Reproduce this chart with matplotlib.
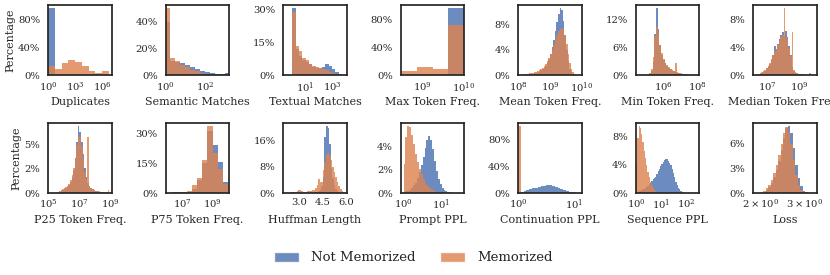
import numpy as np
import matplotlib
matplotlib.use("Agg")
import matplotlib.pyplot as plt
import seaborn as sns
from matplotlib.ticker import FuncFormatter, NullLocator
from matplotlib.patches import Patch

# percentages per bin (not memorized / memorized)
dup_not = [96, 1.2, 0.8, 0.6, 0.5, 0.4, 0.2, 0.1, 0.2]
dup_mem = [13.9, 9.1, 17.3, 22.0, 20.0, 14.0, 6.7, 3.4, 6.7]

sem_not = [40, 11, 10, 9, 7.5, 6, 5, 3.5, 2.5, 1.8, 1.2, 1.2, 1.8]
sem_mem = [50, 13, 11, 8, 6, 4, 3, 2, 1.2, 0.8, 0.5, 0.3, 0.2]

tex_not = [30.5, 12, 9, 7, 6, 5, 4, 3.5, 3.5, 4, 5, 4.5, 3, 1.5, 0.8]
tex_mem = [29, 13.5, 11, 8, 7, 5, 4.5, 4, 3.5, 3, 2.5, 1.8, 1, 0.5, 0.2]

max_not = [1.3, 1.3, 1.3, 96]
max_mem = [6.7, 12.4, 9.0, 72]

mean_not = [0, 0, 0.05, 0.1, 0.1, 0.15, 0.2, 0.2, 0.25, 0.3,
            0.35, 0.4, 0.5, 0.6, 0.8, 1.0, 1.2, 1.5, 2.0, 2.6,
            3.4, 4.4, 5.6, 7.0, 8.4, 9.6, 10.5, 10.2, 8.6, 6.4,
            4.0, 2.2, 1.0, 0.5, 0.2, 0.1, 0, 0, 0, 0]
mean_mem = [0, 0.05, 0.1, 0.15, 0.2, 0.25, 0.3, 0.35, 0.4, 0.45,
            0.5, 0.6, 0.7, 0.8, 1.0, 1.2, 1.5, 1.8, 2.2, 2.7,
            3.3, 4.0, 4.8, 5.6, 6.3, 6.9, 7.3, 7.5, 7.2, 6.4,
            5.0, 3.4, 2.0, 1.0, 0.5, 0.25, 0.1, 0.05, 0, 0]

min_not = [0, 0.05, 0.1, 0.2, 0.4, 1.0, 3.0, 9.0, 14.5, 10.0,
           6.5, 4.5, 3.3, 2.6, 2.1, 1.7, 1.4, 1.1, 0.9, 0.75,
           0.6, 0.5, 0.4, 0.35, 0.3, 0.25, 0.2, 0.15, 0.1, 0.1,
           0.05, 0.05]
min_mem = [0, 0.1, 0.2, 0.3, 0.6, 1.5, 4.0, 8.5, 10.5, 9.0,
           6.5, 4.8, 3.6, 2.8, 2.2, 1.8, 1.5, 1.2, 1.0, 2.6,
           0.7, 0.55, 0.45, 0.4, 0.35, 0.3, 0.25, 0.2, 0.15, 0.1,
           0.1, 0.05]

med_not = [0, 0.05, 0.1, 0.2, 0.3, 0.5, 0.7, 1.0, 1.3, 1.7,
           2.2, 2.9, 4.2, 3.8, 4.5, 5.2, 5.8, 6.2, 5.6, 6.3,
           5.5, 4.2, 3.0, 1.2, 0.6, 0.4, 0.3, 0.2, 0.15, 0.1,
           0.1, 0.05, 0.05, 0.1, 0.05, 0, 0, 0]
med_mem = [0, 0.1, 0.2, 0.3, 0.45, 0.6, 0.8, 1.1, 1.4, 1.8,
           2.3, 2.9, 3.5, 3.8, 4.3, 5.0, 5.6, 5.8, 9.6, 5.5,
           5.2, 4.0, 2.8, 6.2, 0.8, 0.5, 0.35, 0.25, 0.2, 0.15,
           0.1, 0.1, 0.05, 0.05, 0.3, 0, 0, 0]

p25_not = [0, 0, 0, 0, 0, 0, 0.05, 0.1, 0.2, 0.3,
           0.4, 0.5, 0.6, 0.8, 1.1, 1.6, 2.4, 3.6, 5.2, 6.9,
           6.3, 5.2, 4.0, 2.6, 1.6, 1.0, 0.7, 0.5, 0.4, 0.3,
           0.25, 0.2, 0.15, 0.1, 0.1, 0.1, 0.05, 0.05, 0.1, 0.05]
p25_mem = [0, 0, 0, 0, 0, 0, 0.1, 0.2, 0.3, 0.4,
           0.5, 0.6, 0.75, 0.95, 1.3, 1.8, 2.6, 3.6, 4.9, 5.8,
           5.9, 4.8, 3.5, 2.2, 1.4, 5.8, 0.7, 0.5, 0.4, 0.3,
           0.25, 0.2, 0.2, 0.15, 0.15, 0.1, 0.1, 0.1, 0.3, 0.05]

p75_not = [0, 0.3, 0.5, 0.5, 0.6, 2.0, 6.5, 15.0, 31.0, 24.0, 15.5, 5.5, 1.0]
p75_mem = [0, 0, 0.3, 0.5, 1.0, 3.9, 7.3, 16.5, 33.7, 20.0, 12.0, 4.5, 5.0]

huf_not = [0, 0, 0, 0, 0, 0, 0, 0, 0.05, 0.1,
           0.1, 0.05, 0.05, 0.05, 0.05, 0.1, 0.1, 0.1, 0.15, 0.2,
           0.3, 0.4, 0.6, 1.0, 2.0, 5.0, 17.0, 20.5, 20.0, 15.0,
           7.5, 4.5, 2.5, 1.3, 0.7, 0.4, 0.2, 0.1, 0.05, 0]
huf_mem = [0.05, 0.1, 0.1, 0.15, 0.2, 0.25, 0.3, 0.4, 0.6, 1.0,
           0.9, 0.5, 0.4, 0.4, 0.45, 0.5, 0.6, 0.7, 0.8, 1.0,
           1.4, 2.5, 4.2, 3.5, 3.5, 7.0, 9.5, 12.0, 12.6, 11.5,
           10.0, 8.0, 6.5, 5.0, 3.5, 2.2, 1.3, 0.7, 0.3, 0.1]

pr_not = [0.1, 0.15, 0.2, 0.3, 0.45, 0.65, 0.9, 1.3, 1.8, 2.4,
          3.1, 3.9, 4.6, 4.9, 4.6, 3.8, 2.8, 1.9, 1.2, 0.75,
          0.45, 0.28, 0.17, 0.1, 0.06, 0.04, 0.02, 0.01, 0.01, 0]
pr_mem = [2.5, 4.8, 5.8, 5.7, 5.0, 4.2, 3.4, 2.7, 2.1, 1.6,
          1.2, 0.9, 0.7, 0.5, 0.35, 0.25, 0.17, 0.11, 0.07, 0.05,
          0.03, 0.02, 0.01, 0, 0, 0, 0, 0, 0, 0]

cont_not = [1.0, 2.0, 3.0, 4.2, 5.5, 6.8, 8.0, 9.2, 10.2, 11.0,
            11.5, 11.3, 10.6, 9.5, 8.0, 6.4, 4.8, 3.3, 2.1, 1.2,
            0.6, 0.2]
cont_mem = [99.5, 0, 0, 0, 0, 0, 0, 0, 0, 0,
            0, 0, 0, 0, 0, 0, 0, 0, 0, 0,
            0, 0]

seq_not = [0.15, 0.2, 0.25, 0.3, 0.4, 0.5, 0.6, 0.75, 0.9, 1.05,
           1.25, 1.45, 1.7, 1.95, 2.1, 2.3, 2.7, 3.1, 3.45, 3.8,
           4.15, 4.45, 4.7, 4.8, 4.75, 4.5, 4.2, 3.9, 3.4, 2.8,
           2.2, 1.6, 1.1, 0.75, 0.5, 0.3, 0.18, 0.1, 0.05, 0.03,
           0.02, 0.01, 0.01, 0]
seq_mem = [4.0, 7.8, 9.5, 9.2, 8.3, 7.2, 6.0, 4.9, 3.9, 3.0,
           2.2, 1.6, 1.1, 0.7, 0.45, 0.3, 0.2, 0.12, 0.08, 0.05,
           0.03, 0.02, 0, 0, 0, 0, 0, 0, 0, 0,
           0, 0, 0, 0, 0, 0, 0, 0, 0, 0,
           0, 0, 0, 0]

loss_not = [0.02, 0.05, 0.15, 0.35, 0.7, 1.2, 1.9, 2.8, 3.9, 5.2,
            6.6, 7.8, 8.1, 7.2, 5.4, 3.4, 1.8, 0.8, 0.3, 0.1]
loss_mem = [0.05, 0.1, 0.3, 0.6, 1.0, 1.6, 2.4, 3.4, 4.6, 5.9,
            7.2, 7.95, 7.4, 5.9, 4.0, 2.2, 1.0, 0.4, 0.1, 0.03]

labels = ["Not Memorized", "Memorized"]

# name, not, mem, bin range (log10 unless linear), log?, xlim, xticks, yticks
panels = [
    ("Duplicates", dup_not, dup_mem, (0, 6.75), True, (0, 7.1), [0, 3, 6], [0, 40, 80]),
    ("Semantic Matches", sem_not, sem_mem, (0, 3.2), True, (0, 3.2), [0, 2], [0, 20, 40]),
    ("Textual Matches", tex_not, tex_mem, (0, 3.75), True, (-0.72, 4.14), [1, 3], [0, 15, 30]),
    ("Max Token Freq.", max_not, max_mem, (8.46, 10.03), True, (8.46, 10.03), [9, 10], [0, 40, 80]),
    ("Mean Token Freq.", mean_not, mean_mem, (8, 10), True, (8, 10), [8, 9, 10], [0, 4, 8]),
    ("Min Token Freq.", min_not, min_mem, (4.8, 8.0), True, (4.41, 8.12), [6, 8], [0, 6, 12]),
    ("Median Token Freq.", med_not, med_mem, (6.2, 10.0), True, (6.08, 10.1), [7, 9], [0, 4, 8]),
    ("P25 Token Freq.", p25_not, p25_mem, (5, 9), True, (5, 9.07), [5, 7, 9], [0, 2.5, 5]),
    ("P75 Token Freq.", p75_not, p75_mem, (6.0, 10.33), True, (5.93, 10.1), [7, 9], [0, 15, 30]),
    ("Huffman Length", huf_not, huf_mem, (2.0, 6.0), False, (1.93, 6.05), [3.0, 4.5, 6.0], [0, 8, 16]),
    ("Prompt PPL", pr_not, pr_mem, (0, 1.5), True, (-0.08, 1.6), [0, 1], [0, 2, 4]),
    ("Continuation PPL", cont_not, cont_mem, (0, 1.1), True, (0, 1.13), [0, 1], [0, 40, 80]),
    ("Sequence PPL", seq_not, seq_mem, (0, 2.2), True, (-0.02, 2.5), [0, 1, 2], [0, 4, 8]),
    ("Loss", loss_not, loss_mem, (0.29, 0.49), True, (0.268, 0.528), None, [0, 3, 6]),
]

sns.set_style("white")
plt.rcParams["font.family"] = "DejaVu Serif"
plt.rcParams["mathtext.fontset"] = "dejavuserif"
plt.rcParams["xtick.major.size"] = 0
plt.rcParams["xtick.major.pad"] = 3.5
plt.rcParams["ytick.major.size"] = 0
plt.rcParams["ytick.major.pad"] = 5.5

colors = sns.color_palette("deep")[:2]
alpha = 0.82

fig, axes = plt.subplots(2, 7, figsize=(8.3, 2.75), dpi=100)
fig.subplots_adjust(left=48 / 830, right=817 / 830, top=1 - 5 / 275,
                    bottom=1 - 193 / 275, wspace=0.836, hspace=0.667)

for ax, (name, nm, mm, (lo, hi), logx, xl, xt, yt) in zip(axes.flat, panels):
    for vals, c in [(nm, colors[0]), (mm, colors[1])]:
        e = np.linspace(lo, hi, len(vals) + 1)
        if logx:
            e = 10 ** e
        ax.stairs(vals, e, fill=True, color=c, alpha=alpha, lw=0)
    if logx:
        ax.set_xscale("log")
        ax.set_xlim(10 ** xl[0], 10 ** xl[1])
        if xt is not None:
            ax.set_xticks([10.0 ** t for t in xt])
        else:
            ax.set_xticks([2, 3], labels=[r"$\mathdefault{2\times10^{0}}$",
                                          r"$\mathdefault{3\times10^{0}}$"])
        ax.xaxis.set_minor_locator(NullLocator())
    else:
        ax.set_xlim(*xl)
        ax.set_xticks(xt)
    ax.set_yticks(yt)
    ax.yaxis.set_major_formatter(FuncFormatter(lambda v, p: f"{int(v)}%"))
    ax.tick_params(labelsize=7.2)
    ax.set_xlabel(name, fontsize=8, labelpad=1.5)
    for s in ax.spines.values():
        s.set_linewidth(1.25)

axes[0, 0].set_ylabel("Percentage", fontsize=8, labelpad=2)
axes[1, 0].set_ylabel("Percentage", fontsize=8, labelpad=2)
fig.align_xlabels(axes[1, :])
fig.align_xlabels(axes[0, :])

handles = [Patch(facecolor=c, alpha=alpha) for c in colors]
fig.legend(handles, labels, loc="center", bbox_to_anchor=(0.498, 0.062), ncol=2,
           frameon=False, fontsize=9.5, handlelength=1.9, handleheight=0.8,
           columnspacing=1.9, handletextpad=0.9)

fig.savefig("out.png", dpi=100)
